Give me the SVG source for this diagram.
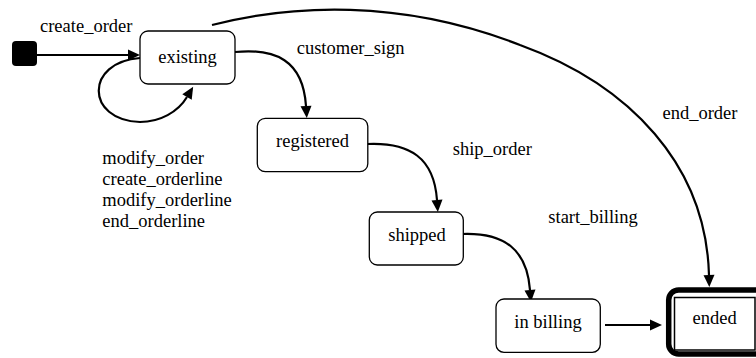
<svg xmlns="http://www.w3.org/2000/svg" width="756" height="358" viewBox="0 0 756 358">
<style>
text{font-family:"Liberation Serif","Times New Roman",serif;font-size:18.5px;fill:#000}
.node{fill:#fff;stroke:#000;stroke-width:1.3}
.c{text-anchor:middle}
.edge{fill:none;stroke:#000;stroke-width:2.2;marker-end:url(#ah)}
</style>
<defs>
<marker id="ah" markerUnits="userSpaceOnUse" markerWidth="12" markerHeight="11" refX="0" refY="5.5" orient="auto" overflow="visible">
<path d="M0,0 L12,5.5 L0,11 z" fill="#000"/>
</marker>
</defs>
<rect width="756" height="358" fill="#fff"/>
<g id="connectors">
<path class="edge" d="M37,55 L128,55"/>
<path class="edge" d="M140,58 C85,62 85,120 140,122 C160,122 178,112 187,97"/>
<path class="edge" d="M235,52 C275,48 303,60 306,106"/>
<path class="edge" d="M367,144 C410,142 434,158 437,200"/>
<path class="edge" d="M461,234 C505,232 527,250 530,290"/>
<path class="edge" d="M605,325 L650,325"/>
<path class="edge" d="M212,25 C290,5 400,-2 520,45 C630,85 706,165 709,275"/>
<text x="40" y="32.3">create_order</text>
<text x="296.7" y="53.5">customer_sign</text>
<text x="662.5" y="118.5">end_order</text>
<text x="452.7" y="155">ship_order</text>
<text x="548.3" y="223.3">start_billing</text>
<text x="102.3" y="163.5">modify_order</text>
<text x="102.3" y="184.5">create_orderline</text>
<text x="102.3" y="205.5">modify_orderline</text>
<text x="102.3" y="226.5">end_orderline</text>
</g>
<g id="initial">
<rect x="12" y="41" width="25" height="25" rx="4" fill="#000"/>
</g>
<g id="existing">
<rect class="node" x="140" y="31" width="95" height="53" rx="8"/>
<text class="c" x="187.5" y="63">existing</text>
</g>
<g id="registered">
<rect class="node" x="257.3" y="118.3" width="110.5" height="53.4" rx="8"/>
<text class="c" x="312.5" y="147">registered</text>
</g>
<g id="shipped">
<rect class="node" x="369.3" y="212" width="94" height="53" rx="8"/>
<text class="c" x="417" y="240.5">shipped</text>
</g>
<g id="in_billing">
<rect class="node" x="496" y="299" width="104.3" height="53.3" rx="8"/>
<text class="c" x="548" y="328.3">in billing</text>
</g>
<g id="ended">
<rect x="668.7" y="290" width="100" height="64" rx="10" fill="#fff" stroke="#000" stroke-width="5.5"/>
<rect x="674.5" y="297.5" width="80.5" height="52.5" fill="#fff" stroke="#000" stroke-width="1.5"/>
<text class="c" x="714.7" y="324">ended</text>
</g>
</svg>
